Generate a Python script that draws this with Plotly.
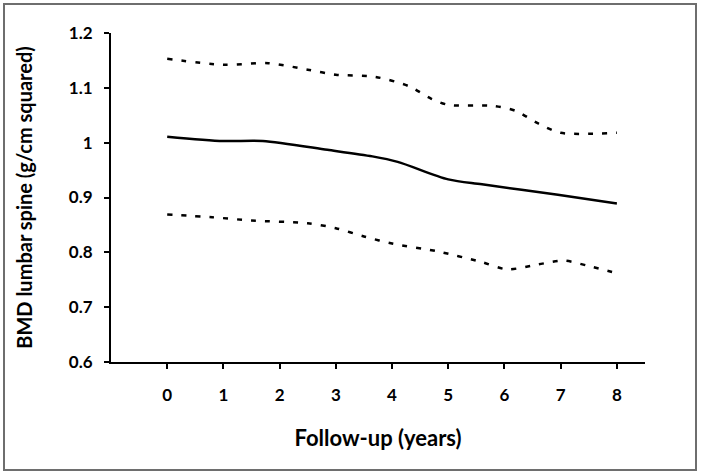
import plotly.graph_objects as go

# mean BMD curve (years, g/cm^2)
mean_years = [0, 1, 1.7, 2.85, 3.65, 4.1, 5, 5.6, 6.95, 8]
mean_bmd = [1.011, 1.003, 1.003, 0.987, 0.975, 0.965, 0.933, 0.924, 0.905, 0.889]

# upper band
upper_years = [0, 1, 1.8, 2.5, 3, 3.7, 4.3, 4.7, 5, 5.8, 6.2, 6.6, 7, 8]
upper_bmd = [1.153, 1.142, 1.145, 1.133, 1.124, 1.12, 1.103, 1.08, 1.069, 1.067,
             1.058, 1.035, 1.018, 1.018]

# lower band
lower_years = [0, 0.8, 1.5, 2.5, 3, 3.5, 4, 4.8, 5.6, 6.05, 6.6, 7.05, 7.5, 8]
lower_bmd = [0.869, 0.864, 0.858, 0.853, 0.844, 0.829, 0.816, 0.802, 0.782, 0.769,
             0.778, 0.785, 0.775, 0.762]

x_ticks = [0, 1, 2, 3, 4, 5, 6, 7, 8]

W, H = 701, 475
L, R, T, B = 111, 56, 33, 113

fig = go.Figure()
for xs, ys, dash in [(upper_years, upper_bmd, '5px,9px'),
                     (lower_years, lower_bmd, '5px,9px'),
                     (mean_years, mean_bmd, 'solid')]:
    fig.add_trace(go.Scatter(
        x=xs, y=ys, mode='lines',
        line=dict(color='black', width=2.5, dash=dash, shape='spline', smoothing=0.8),
        showlegend=False, hoverinfo='skip'
    ))

pw, ph = W - L - R, H - T - B
fig.add_shape(type='rect', xref='paper', yref='paper',
              x0=(4 - L) / pw, x1=(696 - L) / pw,
              y0=(H - B - 470) / ph, y1=(H - B - 4) / ph,
              line=dict(color='#6e6e6e', width=2))

tickfont = dict(size=17, family='Lato', color='black', weight='bold')
fig.update_layout(
    width=W, height=H,
    margin=dict(l=L, r=R, t=T, b=B, autoexpand=False),
    paper_bgcolor='white', plot_bgcolor='white',
    font=dict(family='Lato, Open Sans, sans-serif', color='black'),
    xaxis=dict(
        range=[-1, 8.5], tickvals=x_ticks, showgrid=False, zeroline=False,
        showline=True, linecolor='black', linewidth=2,
        ticks='outside', ticklen=5, tickwidth=2, tickcolor='black',
        tickfont=tickfont, ticklabelstandoff=12, automargin=False,
        title=dict(text='<b>Follow-up (years)</b>', font=dict(size=22), standoff=26),
    ),
    yaxis=dict(
        range=[0.6, 1.2], dtick=0.1, tick0=0.6, showgrid=False, zeroline=False,
        showline=True, linecolor='black', linewidth=2,
        ticks='outside', ticklen=5, tickwidth=2, tickcolor='black',
        tickfont=tickfont, ticklabelstandoff=8, automargin=False,
        title=dict(text='<b>BMD lumbar spine (g/cm squared)</b>', font=dict(size=20), standoff=31),
    ),
)

fig.write_html("out.html", config={'displayModeBar': False},
               post_script="document.body.style.margin='0';document.body.style.overflow='hidden';")
